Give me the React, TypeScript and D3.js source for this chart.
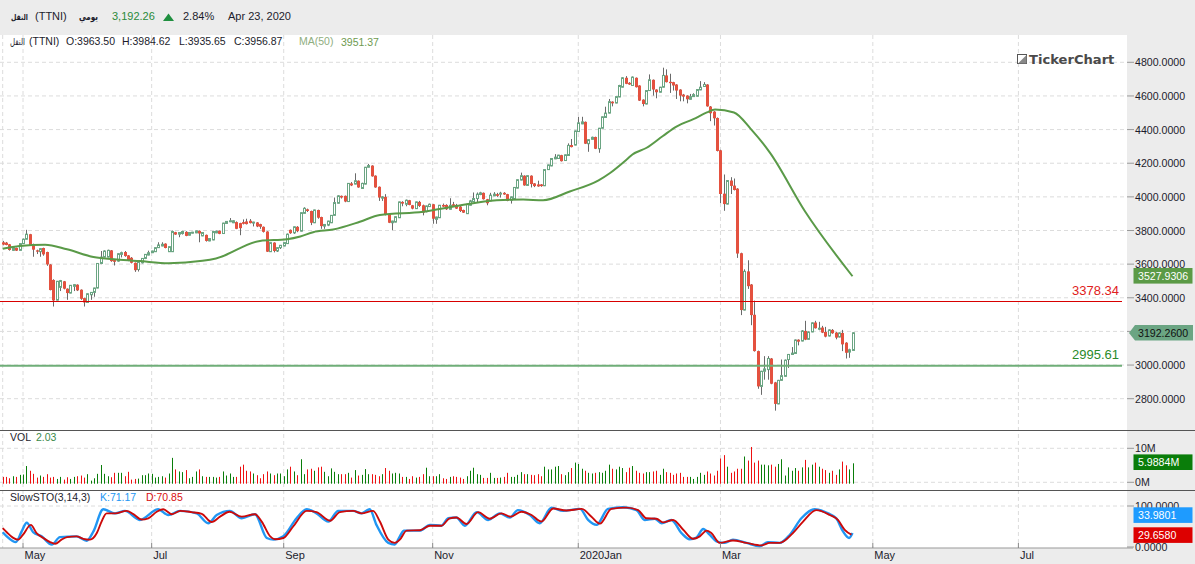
import React from "react";
import * as d3 from "d3";

const W = 1195;
const H = 564;

// daily candles
const opens = [
  3730,3728,3718,3682,3696,3682,3722,3748,3778,3718,
  3682,3674,3696,3672,3598,3506,3386,3462,3498,3454,
  3428,3468,3478,3448,3398,3372,3418,3432,3458,3604,
  3642,3642,3682,3624,3618,3658,3672,3652,3638,3608,
  3568,3608,3634,3654,3668,3674,3698,3708,3722,3674,
  3674,3790,3778,3782,3792,3772,3784,3786,3798,3768,
  3774,3738,3744,3786,3798,3782,3842,3852,3846,3850,
  3844,3850,3854,3858,3844,3848,3838,3822,3794,3674,
  3728,3678,3698,3708,3722,3804,3786,3822,3796,3902,
  3926,3916,3846,3922,3880,3826,3832,3846,3890,3962,
  4006,4006,3972,4080,4076,4096,4050,4076,4176,4186,
  4126,4060,3992,4000,3896,3846,3850,3876,3970,3956,
  3980,3950,3930,3970,3950,3912,3942,3956,3866,3876,
  3952,3952,3926,3956,3952,3942,3922,3900,3950,3972,
  3990,4014,4024,3986,3976,4006,4016,4016,4024,4016,
  3980,3986,4052,4100,4126,4068,4126,4080,4074,4074,
  4066,4162,4184,4226,4228,4248,4216,4246,4308,4308,
  4388,4434,4446,4316,4342,4356,4286,4408,4472,4498,
  4566,4558,4594,4652,4708,4678,4662,4708,4662,4578,
  4552,4632,4696,4638,4622,4652,4722,4684,4682,4668,
  4638,4608,4602,4580,4596,4598,4636,4656,4668,4537,
  4507,4469,4277,4019,3957,4097,4067,4049,3665,3327,
  3557,3479,3299,3083,2873,2963,2973,3039,2897,2769,
  2909,2933,3033,3063,3069,3151,3143,3203,3153,3197,
  3253,3213,3223,3197,3173,3209,3193,3167,3191,3133,
  3077,3087,
];
const closes = [
  3716,3714,3684,3698,3680,3722,3748,3778,3712,3686,
  3674,3692,3658,3598,3446,3384,3498,3502,3454,3428,
  3474,3478,3444,3394,3372,3424,3432,3458,3604,3642,
  3678,3682,3618,3614,3662,3668,3648,3622,3608,3564,
  3612,3634,3658,3668,3678,3698,3714,3718,3696,3704,
  3794,3776,3788,3794,3768,3788,3790,3798,3782,3788,
  3738,3752,3794,3796,3780,3844,3854,3858,3858,3810,
  3814,3840,3838,3844,3850,3824,3822,3792,3674,3728,
  3678,3698,3712,3728,3778,3784,3822,3796,3906,3932,
  3916,3846,3922,3876,3826,3836,3856,3890,3966,4006,
  3996,3972,4080,4068,4096,4056,4080,4176,4186,4122,
  4056,3996,4000,3892,3846,3856,3882,3970,3960,3980,
  3952,3930,3970,3946,3906,3946,3956,3870,3880,3950,
  3942,3926,3950,3946,3930,3916,3906,3956,3976,3990,
  4016,4024,3986,3962,4010,4016,4006,4022,4014,3976,
  4000,4056,4102,4126,4068,4126,4076,4064,4062,4064,
  4162,4190,4228,4236,4248,4212,4250,4306,4296,4392,
  4440,4446,4316,4340,4354,4286,4408,4476,4498,4566,
  4556,4596,4662,4708,4672,4668,4712,4652,4572,4552,
  4632,4696,4638,4622,4652,4722,4682,4676,4662,4632,
  4602,4596,4580,4596,4608,4638,4652,4668,4538,4497,
  4467,4273,4017,3957,4097,4065,4041,3663,3327,3557,
  3469,3297,3083,2873,2963,2977,3039,2889,2769,2909,
  2937,3029,3063,3071,3149,3139,3203,3151,3197,3251,
  3219,3219,3193,3169,3209,3189,3163,3191,3123,3073,
  3091,3192,
];
const highs = [
  3738,3732,3720,3702,3698,3724,3752,3804,3780,3722,
  3686,3696,3698,3674,3600,3510,3500,3506,3500,3456,
  3476,3482,3480,3450,3400,3426,3434,3460,3606,3678,
  3682,3686,3684,3626,3666,3674,3678,3654,3642,3610,
  3614,3636,3660,3680,3680,3700,3730,3730,3724,3706,
  3800,3792,3790,3798,3796,3790,3792,3800,3800,3790,
  3776,3754,3796,3800,3800,3846,3856,3874,3862,3854,
  3846,3866,3870,3868,3852,3850,3840,3824,3796,3730,
  3730,3700,3714,3730,3782,3806,3824,3826,3908,3938,
  3930,3918,3924,3924,3882,3838,3858,3892,3996,4010,
  4008,4008,4082,4088,4140,4098,4084,4178,4196,4188,
  4128,4062,4004,4016,3898,3858,3884,3972,3974,3984,
  3982,3952,3972,3976,3954,3948,3960,3958,3882,3952,
  3960,3956,3992,3970,3958,3946,3924,3960,3982,4026,
  4026,4030,4026,3988,4024,4028,4024,4030,4028,4018,
  4002,4058,4104,4144,4128,4128,4128,4082,4096,4076,
  4164,4192,4230,4254,4250,4250,4252,4318,4344,4394,
  4476,4476,4448,4342,4358,4358,4410,4478,4536,4582,
  4568,4598,4666,4712,4718,4682,4716,4710,4664,4580,
  4634,4728,4698,4640,4654,4768,4758,4732,4684,4670,
  4640,4612,4604,4612,4616,4640,4688,4682,4670,4540,
  4510,4472,4280,4133,4100,4117,4109,4052,3668,3569,
  3623,3482,3383,3086,2966,3053,3053,3042,2900,2912,
  3033,3033,3066,3107,3152,3153,3208,3263,3200,3254,
  3263,3257,3233,3227,3212,3214,3196,3194,3209,3136,
  3097,3195,
];
const lows = [
  3712,3712,3680,3678,3678,3680,3720,3746,3708,3644,
  3660,3644,3650,3590,3444,3348,3384,3440,3450,3388,
  3426,3440,3440,3388,3348,3370,3388,3406,3456,3600,
  3640,3640,3614,3592,3614,3640,3644,3618,3604,3554,
  3556,3604,3630,3652,3666,3672,3696,3706,3694,3672,
  3672,3774,3760,3776,3766,3770,3782,3784,3730,3766,
  3734,3736,3742,3784,3778,3780,3840,3850,3844,3808,
  3772,3836,3836,3842,3824,3820,3810,3788,3672,3672,
  3670,3672,3690,3706,3720,3780,3780,3790,3794,3900,
  3910,3832,3844,3870,3810,3810,3826,3844,3888,3960,
  3990,3968,3970,4064,4074,4054,4048,4074,4174,4120,
  4054,3976,3976,3890,3844,3802,3848,3874,3944,3944,
  3950,3926,3928,3940,3890,3908,3940,3840,3840,3874,
  3940,3922,3924,3944,3928,3910,3904,3898,3948,3970,
  3966,4010,3984,3950,3974,4004,4000,3996,4012,3974,
  3960,3984,4050,4098,4066,4066,4056,4058,4060,4060,
  4064,4160,4182,4224,4226,4210,4214,4244,4294,4306,
  4386,4432,4314,4268,4340,4284,4262,4406,4470,4496,
  4538,4556,4592,4650,4670,4666,4660,4650,4570,4538,
  4550,4630,4602,4586,4620,4650,4680,4618,4632,4582,
  4568,4568,4556,4578,4594,4596,4634,4654,4536,4450,
  4424,4270,3963,3917,3955,4017,4038,3637,3297,3325,
  3453,3237,3080,2859,2823,2913,2913,2886,2729,2767,
  2907,2931,2983,3060,3066,3117,3141,3148,3150,3195,
  3217,3207,3190,3165,3170,3186,3153,3164,3083,3039,
  3043,3085,
];

// volume in millions, one per candle
const volumes = [
  2.0,2.0,1.6,2.2,2.0,2.6,2.7,5.2,3.8,2.9,
  1.8,2.4,2.0,2.8,1.8,2.0,1.4,2.0,1.2,1.9,
  1.4,2.0,2.2,2.4,1.8,2.8,0.9,1.6,2.9,5.5,
  2.9,2.2,1.9,3.2,3.2,3.2,2.2,3.5,1.2,1.4,
  1.5,2.5,2.5,3.0,2.9,1.8,2.0,2.2,1.8,3.0,
  7.6,4.2,3.6,3.4,4.0,1.6,2.0,3.6,4.2,2.2,
  2.0,2.0,2.0,1.8,2.0,3.6,2.4,3.0,2.0,2.0,
  5.0,5.6,3.8,3.6,3.0,2.5,1.6,2.8,3.6,3.0,
  2.5,3.0,3.0,2.2,4.2,5.0,3.6,2.5,7.2,2.8,
  4.2,4.4,3.8,4.8,5.0,3.5,2.2,4.5,3.5,2.8,
  2.8,2.8,3.2,1.8,4.0,2.4,2.6,4.3,2.8,2.8,
  2.6,2.2,2.8,4.6,3.8,3.0,3.2,3.0,2.0,2.0,
  1.4,2.2,1.8,2.0,2.8,4.7,2.2,2.2,2.2,2.8,
  1.6,1.4,2.0,2.2,2.0,1.8,1.4,2.2,3.8,4.7,
  2.8,2.6,1.7,1.7,3.2,1.7,1.7,1.8,2.0,3.2,
  2.0,2.0,2.6,3.4,2.8,2.8,2.6,2.5,2.8,2.2,
  5.0,4.2,4.2,5.0,5.2,2.8,2.5,3.4,4.6,6.2,
  5.8,4.4,3.8,3.2,3.0,3.2,3.4,3.2,3.8,5.6,
  4.4,4.2,5.0,4.6,3.4,4.7,5.2,3.8,3.2,3.0,
  3.4,3.4,3.6,3.8,2.6,4.4,3.4,3.2,2.6,3.0,
  3.2,2.0,2.0,2.0,1.4,2.0,3.2,2.6,3.6,3.0,
  2.4,3.8,7.4,8.4,5.0,3.2,3.6,4.4,4.4,8.0,
  6.8,10.8,6.2,6.8,5.6,5.6,5.4,5.6,5.0,5.8,
  7.2,2.4,4.8,3.8,4.6,3.8,4.8,7.0,4.8,5.6,
  6.2,5.0,4.4,4.0,3.2,3.8,2.6,4.2,6.5,5.4,
  4.2,6.0,
];

// MA(50), read at the bends of the line
const maIdx = [0,5,12.5,19,26.8,33.7,40.5,49,59,63,76,84,87.9,91.7,97.6,105.5,111.4,124.2,134,145.9,153.7,159.6,167.5,176,179.4,184.3,186,190.2,195,199,204,208,210.4,216,221,226.6,237,251];
const maVal = [3692,3708,3716,3688,3642,3628,3618,3606,3620,3634,3738,3748,3764,3790,3806,3852,3892,3912,3946,3980,3984,3980,4032,4098,4142,4222,4252,4292,4362,4418,4462,4502,4520,4502,4403,4263,3913,3528];

// slow stochastic %K and %D, read at the bends
const kIdx = [0,1.2,3.9,5.6,7.1,9,11.5,14.5,16.9,21.8,24.8,26.8,29.7,33.2,36.1,40.5,45.9,48.9,52.4,57.3,60.7,63.2,67.1,70.6,74.5,78,80,82.9,86.8,89.8,92.7,96.2,99.1,103.5,106,108.4,110.4,113.9,115.8,117.3,118.5,123.2,126.2,129.6,131.6,134,136.5,140,143.4,146.8,149.8,152.2,155.7,158.6,162.1,165.5,170.5,172.9,175.4,178.8,183.2,187.2,189.6,192.6,194.6,197.5,200.5,202.9,204.9,206.9,208.8,210.8,213.3,215.7,219.7,223.6,226,229.5,232.5,235.9,239.8,243.8,246.2,248.2,250,251];
const kVal = [36,26,12,38,59,36,26,6,24,26,15,38,92,82,88,66,92,78,88,82,58,78,88,70,80,22,18,26,70,92,82,62,88,88,82,92,54,10,6,26,40,40,54,52,70,72,52,85,66,82,72,90,78,58,96,88,93,66,54,93,97,90,66,69,58,66,34,19,23,44,30,14,10,18,10,2,12,10,30,70,92,82,70,38,22,34];
const dIdx = [0,1.2,3,4.6,6,8.3,10,12,14,15.5,17.4,19,21.8,23.8,25.8,27.8,29.2,30.7,33.2,36.6,38.6,41,43,45.5,47.4,50,52.4,55.8,58.8,61.7,64.2,67,70.6,74.5,76.5,79,80.4,82.9,85.8,89.8,92.7,96.7,99.6,103.5,106,109.4,111.4,113.9,115.8,117.3,119.3,123.2,126.2,129.6,132,134,137,140.4,143.9,147.3,150,153.2,156.2,159.1,162.6,166.5,171,173.9,176.4,179.8,184.2,187.7,190.1,193.1,195,198,201,203.9,205.9,207.9,209.3,211.8,215.7,219.7,224.1,226.6,229.5,233.4,236.4,240.3,244.3,246.7,248.7,250.7];
const dVal = [46,36,23,18,30,54,34,22,12,8,18,24,26,20,18,34,62,82,82,88,80,67,70,86,92,80,88,85,81,61,74,86,74,80,62,26,19,22,50,88,85,64,85,88,82,88,62,18,10,18,40,41,52,52,70,72,56,85,69,82,74,86,78,62,94,89,93,74,57,93,96,90,70,69,60,66,42,20,26,40,34,10,16,10,4,10,10,34,62,90,78,66,42,30];

const monthIdx = [6, 44, 83, 127, 170, 212, 257, 300];
const monthLabels = ["May", "Jul", "Sep", "Nov", "2020Jan", "Mar", "May", "Jul"];
const priceTicks = [4800,4600,4400,4200,4000,3800,3600,3400,3200,3000,2800];
const hiddenPriceLabels = [3200]; // sits under the last-price badge
const resistance = 3378.34;
const support = 2995.61;

const x = d3.scaleLinear().domain([0, 251]).range([2.7, 852.5]);
const yPrice = d3.scaleLinear().domain([2800, 4800]).range([398.7, 62.3]);
const yVol = d3.scaleLinear().domain([0, 10]).range([482.3, 448.3]);
const ySto = d3.scaleLinear().domain([0, 100]).range([547, 506]);

const maLine = d3.line<number>().x((_, i) => x(maIdx[i])).y((d) => yPrice(d)).curve(d3.curveMonotoneX);
const kLine = d3.line<number>().x((_, i) => x(kIdx[i])).y((d) => ySto(d)).curve(d3.curveMonotoneX);
const dLine = d3.line<number>().x((_, i) => x(dIdx[i])).y((d) => ySto(d)).curve(d3.curveMonotoneX);

const SANS = "'Liberation Sans','DejaVu Sans',sans-serif";
const GRID = "#dcdcdc";
const PANEL_R = 1127;
const UP = "#6ba583";
const DOWN = "#e4513f";

function Badge({ y, fill, color, text }: { y: number; fill: string; color: string; text: string }) {
  return (
    <g>
      <rect x={1133.5} y={y} width={59} height={15.6} fill={fill} />
      <text x={1138} y={y + 12} fontSize={10.6} fill={color}>{text}</text>
    </g>
  );
}

export default function App() {
  return (
    <svg width={W} height={H} style={{ position: "absolute", left: 0, top: 0, fontFamily: SANS }}>
      <rect width={W} height={H} fill="#ececec" />
      <rect x={0} y={35} width={PANEL_R} height={513} fill="#fff" />

      {/* grid */}
      {[0, ...monthIdx.filter((d) => x(d) < PANEL_R)].map((d, i) => (
        <line key={i} x1={x(d)} x2={x(d)} y1={35} y2={548} stroke={GRID} strokeDasharray="4,3" />
      ))}
      {priceTicks.map((t) => (
        <line key={t} x1={0} x2={PANEL_R} y1={yPrice(t)} y2={yPrice(t)} stroke={GRID} strokeDasharray="4,3" />
      ))}
      {[0, 10].map((t) => (
        <line key={t} x1={0} x2={PANEL_R} y1={yVol(t)} y2={yVol(t)} stroke={GRID} strokeDasharray="4,3" />
      ))}
      <line x1={0} x2={PANEL_R} y1={ySto(100)} y2={ySto(100)} stroke={GRID} strokeDasharray="4,3" />

      {/* header */}
      <g fontSize={11} fill="#1c1c2c">
        <text x={11} y={20} fontFamily="'DejaVu Sans'" fontWeight="bold" fontSize={8} textLength={17} lengthAdjust="spacingAndGlyphs">النقل</text>
        <text x={35} y={20}>(TTNI)</text>
        <text x={79} y={20} fontFamily="'DejaVu Sans'" fontWeight="bold" fontSize={10} textLength={19} lengthAdjust="spacingAndGlyphs">يومي</text>
        <text x={112} y={20} fill="#2a8a3a">3,192.26</text>
        <path d="M163,21L168.5,13.5L174,21Z" fill="#1f8f3f" />
        <text x={183} y={20}>2.84%</text>
        <text x={228} y={20}>Apr 23, 2020</text>
      </g>
      <g fontSize={10.5} fill="#1c1c2c">
        <text x={10} y={45} fontFamily="'DejaVu Sans'" fontSize={9.5} textLength={15} lengthAdjust="spacingAndGlyphs">النقل</text>
        <text x={29} y={45}>(TTNI)</text>
        <text x={66} y={45}>O:3963.50</text>
        <text x={122} y={45}>H:3984.62</text>
        <text x={179} y={45}>L:3935.65</text>
        <text x={234} y={45}>C:3956.87</text>
        <text x={299} y={45} fill="#8fae80">MA(50)</text>
        <text x={341} y={45.5} fill="#6e9a50">3951.37</text>
      </g>

      {/* logo */}
      <rect x={1017.5} y={54.5} width={9} height={9} fill="#fff" stroke="#555" />
      <path d="M1018,63.5L1026.5,55V63.5Z" fill="#888" />
      <text x={1029} y={64} fontFamily="'DejaVu Sans'" fontWeight="bold" fontSize={13.1} fill="#4a4a4a">TickerChart</text>

      {/* candles */}
      {opens.map((o, i) => {
        const c = closes[i];
        const rising = c >= o;
        const top = yPrice(Math.max(o, c));
        const bottom = yPrice(Math.min(o, c));
        const cx = Math.round(x(i)) + 0.5;
        return (
          <g key={i}>
            <line x1={cx} x2={cx} y1={yPrice(highs[i])} y2={yPrice(lows[i])} stroke="#6a6a6a" />
            {rising ? (
              <rect x={cx - 1} y={top} width={2} height={Math.max(bottom - top, 1)} fill="#fff" stroke={UP} strokeWidth={1} />
            ) : (
              <rect x={cx - 1.5} y={top} width={3} height={Math.max(bottom - top, 1)} fill={DOWN} />
            )}
          </g>
        );
      })}
      <path d={maLine(maVal) ?? ""} fill="none" stroke="#5a9a48" strokeWidth={2} />

      {/* horizontal levels */}
      <line x1={0} x2={1122} y1={Math.floor(yPrice(resistance)) + 0.5} y2={Math.floor(yPrice(resistance)) + 0.5} stroke="#d80000" strokeWidth={1} />
      <line x1={0} x2={1122} y1={yPrice(support)} y2={yPrice(support)} stroke="#6fae78" strokeWidth={2} />
      <text x={1119} y={295} textAnchor="end" fontSize={13} fill="#e02020">3378.34</text>
      <text x={1119} y={359} textAnchor="end" fontSize={13} fill="#2a8a2a">2995.61</text>

      {/* volume */}
      <text x={10} y={441} fontSize={10.5} fill="#1c1c2c">VOL</text>
      <text x={36} y={441} fontSize={10.5} fill="#3a8a4a">2.03</text>
      {volumes.map((v, i) => (
        <line key={i} x1={Math.round(x(i)) + 0.5} x2={Math.round(x(i)) + 0.5} y1={yVol(v) + 1.4} y2={yVol(0) + 1.4}
          stroke={closes[i] >= opens[i] ? "#0a7d0a" : "#ee1111"} />
      ))}

      {/* stochastic */}
      <text x={10} y={501} fontSize={10.5} fill="#1c1c2c">SlowSTO(3,14,3)</text>
      <text x={100} y={501} fontSize={10.5} fill="#2196f3">K:71.17</text>
      <text x={146} y={501} fontSize={10.5} fill="#d81010">D:70.85</text>
      <path d={kLine(kVal) ?? ""} fill="none" stroke="#2196f3" strokeWidth={2.4} />
      <path d={dLine(dVal) ?? ""} fill="none" stroke="#cc0a0a" strokeWidth={1.9} />

      {/* panel rules */}
      <line x1={0} x2={W} y1={430.5} y2={430.5} stroke="#555" />
      <line x1={0} x2={W} y1={490.5} y2={490.5} stroke="#555" />
      <line x1={0} x2={PANEL_R + 6} y1={548} y2={548} stroke="#999" />

      {/* right axes */}
      {priceTicks.map((t) => (
        <g key={t}>
          <line x1={PANEL_R} x2={1134} y1={yPrice(t)} y2={yPrice(t)} stroke="#999" />
          {!hiddenPriceLabels.includes(t) && (
            <text x={1135} y={yPrice(t) + 4} fontSize={10.6} fill="#1c1c2c">{d3.format(".4f")(t)}</text>
          )}
        </g>
      ))}
      {[10, 0].map((t) => (
        <g key={t}>
          <line x1={PANEL_R} x2={1134} y1={yVol(t)} y2={yVol(t)} stroke="#999" />
          <text x={1135} y={yVol(t) + 4} fontSize={10.6} fill="#1c1c2c">{t}M</text>
        </g>
      ))}
      {[100, 0].map((t) => (
        <g key={t}>
          <line x1={PANEL_R} x2={1134} y1={ySto(t)} y2={ySto(t)} stroke="#999" />
          <text x={1135} y={ySto(t) + 4} fontSize={10.6} fill="#1c1c2c">{d3.format(".4f")(t)}</text>
        </g>
      ))}

      {/* last value badges */}
      <Badge y={268} fill="#5b9a46" color="#fff" text="3527.9306" />
      <path d="M1129,333L1135,325H1193V340.6H1135Z" fill="#6ba583" />
      <text x={1138} y={337} fontSize={10.6} fill="#111">3192.2600</text>
      <Badge y={454.4} fill="#0a7d0a" color="#fff" text="5.9884M" />
      <Badge y={507.3} fill="#1e9bff" color="#fff" text="33.9801" />
      <Badge y={527.3} fill="#dd0000" color="#fff" text="29.6580" />

      {/* time axis */}
      {monthIdx.map((d, i) => (
        <g key={i}>
          {x(d) < PANEL_R && <line x1={x(d)} x2={x(d)} y1={543} y2={548} stroke="#888" />}
          <text x={x(d) + 1.5} y={559} fontSize={11} fill="#1c1c2c">{monthLabels[i]}</text>
        </g>
      ))}
    </svg>
  );
}
